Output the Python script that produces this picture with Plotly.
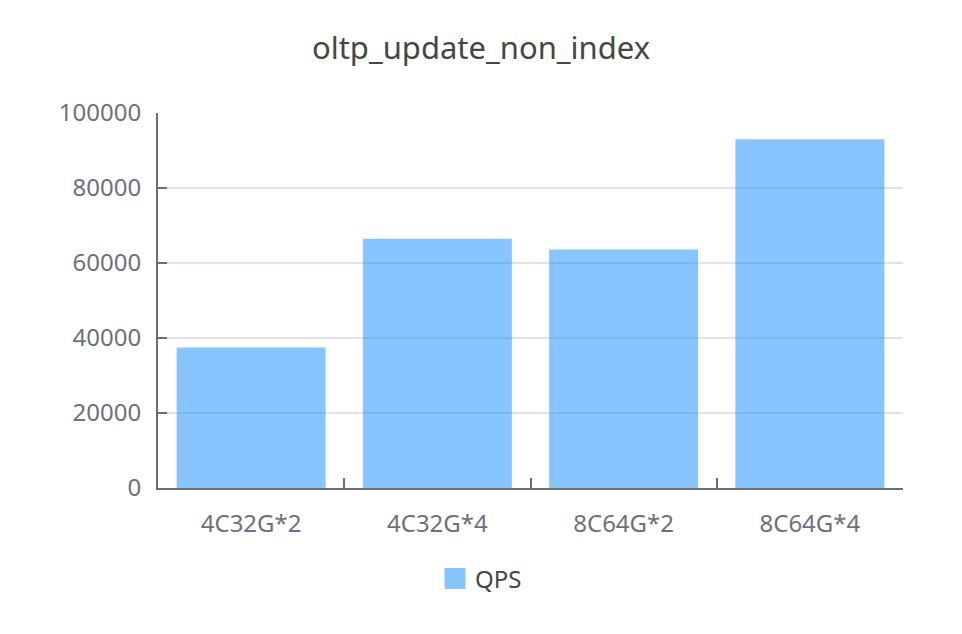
import plotly.graph_objects as go

categories = ["4C32G*2", "4C32G*4", "8C64G*2", "8C64G*4"]
qps = [37500, 66500, 63600, 93000]
y_ticks = [0, 20000, 40000, 60000, 80000, 100000]
title_text = "oltp_update_non_index"
series_name = "QPS"

FONT = "Noto Sans, Open Sans, Arial, sans-serif"
AXIS_COLOR = "#6e6e6e"
LABEL_COLOR = "#6e7079"
BAR_COLOR = "rgba(30,144,255,0.53)"
SWATCH_COLOR = "rgb(135,198,253)"

fig = go.Figure()
fig.add_trace(go.Bar(
    x=categories,
    y=qps,
    name=series_name,
    showlegend=False,
    marker=dict(color=BAR_COLOR, line=dict(width=0)),
))
# legend entry with a larger square swatch
fig.add_trace(go.Scatter(
    x=[None],
    y=[None],
    mode="markers",
    name=series_name,
    showlegend=True,
    marker=dict(symbol="square", size=27, color=SWATCH_COLOR,
                line=dict(width=6, color=SWATCH_COLOR)),
))

fig.update_layout(
    width=962,
    height=634,
    paper_bgcolor="white",
    plot_bgcolor="white",
    margin=dict(l=158, r=59, t=113, b=146, pad=0),
    bargap=0.2,
    font=dict(family=FONT, color=LABEL_COLOR, size=22),
    title=dict(
        text=title_text,
        x=0.5,
        xref="container",
        xanchor="center",
        y=1 - 48 / 634,
        yanchor="middle",
        font=dict(family=FONT, size=31, color="#464646"),
    ),
    showlegend=True,
    legend=dict(
        orientation="h",
        x=0.5,
        xref="container",
        xanchor="center",
        y=1 - 579 / 634,
        yref="container",
        yanchor="middle",
        font=dict(family=FONT, size=24, color="#464646"),
        itemwidth=30,
    ),
    xaxis=dict(
        showline=True,
        linecolor=AXIS_COLOR,
        linewidth=2,
        ticks="inside",
        ticklen=10,
        tickwidth=2,
        tickcolor=AXIS_COLOR,
        tickson="boundaries",
        showgrid=False,
        tickfont=dict(family=FONT, size=24, color=LABEL_COLOR),
        ticklabelstandoff=13,
        fixedrange=True,
    ),
    yaxis=dict(
        range=[0, 100000],
        tickvals=y_ticks,
        ticktext=[str(v) for v in y_ticks],
        showline=True,
        linecolor=AXIS_COLOR,
        linewidth=2,
        ticks="inside",
        ticklen=9,
        tickwidth=2,
        tickcolor=AXIS_COLOR,
        showgrid=True,
        gridcolor="#e0e3ef",
        gridwidth=2,
        zeroline=False,
        tickfont=dict(family=FONT, size=24, color=LABEL_COLOR),
        ticklabelstandoff=10,
        fixedrange=True,
    ),
)

fig.write_html(
    "out.html",
    config={"displayModeBar": False},
    post_script="document.body.style.margin='0';",
)
